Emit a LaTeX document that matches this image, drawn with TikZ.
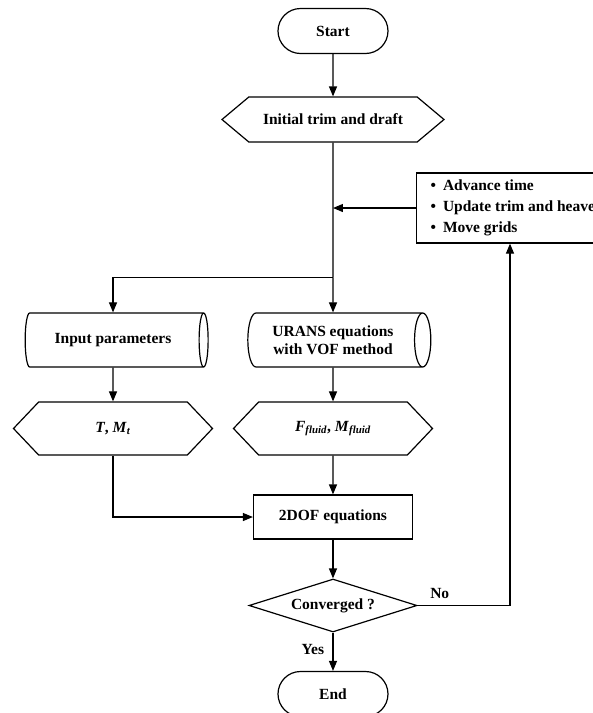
\documentclass[tikz,border=0pt]{standalone}
\usepackage{fontspec}
\setmainfont{Liberation Serif}
\usetikzlibrary{shapes.geometric,shapes.symbols,arrows.meta,positioning}

\begin{document}
\begin{tikzpicture}[-,>={Triangle[length=10pt,width=8pt]},line width=1.2pt,node distance=88.5pt,every node/.style={font=\fontsize{15.5}{18.5}\selectfont\bfseries},term node/.style={draw,rectangle,rounded corners=22.5pt,minimum width=110pt,minimum height=45pt},hex node/.style={draw,signal,signal to=west and east,signal pointer angle=93,minimum width=199pt,minimum height=53pt},cyl node/.style={draw,cylinder,aspect=0.45,minimum width=54pt,minimum height=183pt,align=center},box node/.style={draw,rectangle,minimum width=159pt,minimum height=44pt}]

            \useasboundingbox (-333pt,31pt) rectangle (260pt,-682pt);

            \node[term node] (start) []{Start};
            \node[hex node, minimum width=222pt, minimum height=45pt, signal pointer angle=80] (init) [below of = start]{Initial trim and draft};
            \node[draw, rectangle, align=left, inner xsep=14pt, minimum height=70pt, font=\fontsize{15.5}{21}\selectfont\bfseries] (loop) [below of = init, anchor=west, xshift=83pt]{\textbullet\hspace{7pt}Advance time\\\textbullet\hspace{7pt}Update trim and heave\\\textbullet\hspace{7pt}Move grids};
            \node[cyl node] (urans) [below of = init, yshift=-132pt]{URANS equations\\with VOF method};
            \node[cyl node] (input) [left of = urans, xshift=-131.5pt]{Input parameters};
            \node[hex node] (ff) [below of = urans]{\textit{F}\textsubscript{\textit{fluid}}, \textit{M}\textsubscript{\textit{fluid}}};
            \node[hex node] (tm) [below of = input]{\textit{T}, \textit{M}\textsubscript{\textit{t}}};
            \node[box node] (dof) [below of = ff]{2DOF equations};
            \node[draw, diamond, aspect=3.17, inner sep=1pt, minimum width=168pt, minimum height=53pt] (conv) [below of = dof]{Converged ?};
            \node[term node] (stop) [below of = conv]{End};

            \coordinate[above=35pt of urans.north] (split);

                \draw[->] (start) to (init);
                \draw[-] (init) to (split);
                \draw[->] (split) to (urans);
                \draw[->] (split) -| (input);
                \draw[->] (loop.west) to (loop.west -| init);
                \draw[->] (input) to (tm);
                \draw[->] (urans) to (ff);
                \draw[->] (ff) to (dof);
                \draw[->] (tm) |- (dof);
                \draw[->] (dof) to (conv);
                \draw[->] (conv) to node[pos=0.45, left=5pt]{Yes} (stop);
                \draw[->] (conv.east) -| node[pos=0.12, above=3pt]{No} ([xshift=94pt]loop.south west);
            ;
        \end{tikzpicture}
\end{document}
